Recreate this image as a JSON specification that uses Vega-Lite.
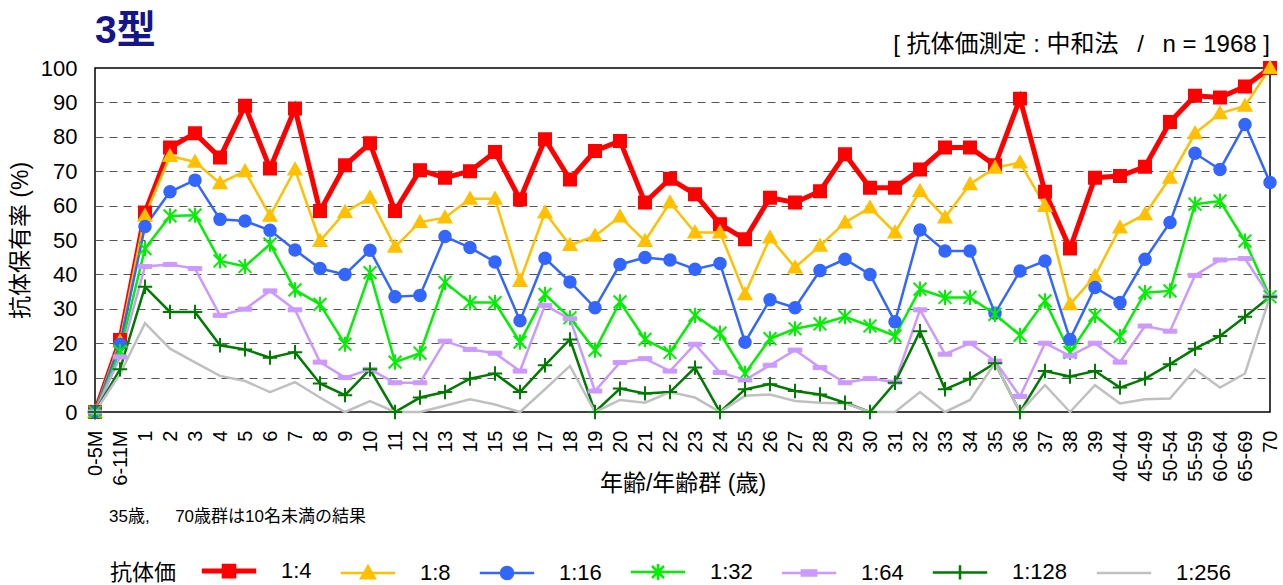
{
  "$schema": "https://vega.github.io/schema/vega-lite/v6.json",
  "width": 1175,
  "height": 344,
  "autosize": {"type": "none"},
  "padding": {"left": 95, "top": 68, "right": 13, "bottom": 173},
  "background": "white",
  "config": {
    "font": "Liberation Sans, Noto Sans CJK JP",
    "view": {"stroke": "#000000", "strokeWidth": 1.5},
    "axisY": {"tickCount": 12}
  },
  "title": {
    "text": "3型",
    "anchor": "start",
    "frame": "group",
    "fontSize": 39,
    "fontWeight": "bold",
    "color": "#14148c",
    "offset": -18
  },
  "data": {
    "values": [
      {"age": "0-5M", "1:4": 0, "1:8": 0, "1:16": 0, "1:32": 0, "1:64": 0, "1:128": 0, "1:256": 0},
      {"age": "6-11M", "1:4": 20.9, "1:8": 20.5, "1:16": 19.7, "1:32": 17.6, "1:64": 16, "1:128": 12.4, "1:256": 11},
      {"age": "1", "1:4": 58, "1:8": 57, "1:16": 53.9, "1:32": 47.5, "1:64": 42.3, "1:128": 36.4, "1:256": 25.8},
      {"age": "2", "1:4": 76.9, "1:8": 74.4, "1:16": 64, "1:32": 57, "1:64": 42.9, "1:128": 29.1, "1:256": 18.4},
      {"age": "3", "1:4": 81, "1:8": 72.7, "1:16": 67.4, "1:32": 57.2, "1:64": 41.7, "1:128": 29.1, "1:256": 14.4},
      {"age": "4", "1:4": 74, "1:8": 66.5, "1:16": 56, "1:32": 43.9, "1:64": 28.1, "1:128": 19.4, "1:256": 10.5},
      {"age": "5", "1:4": 89, "1:8": 70, "1:16": 55.5, "1:32": 42.3, "1:64": 29.9, "1:128": 18.2, "1:256": 9},
      {"age": "6", "1:4": 70.8, "1:8": 57, "1:16": 52.8, "1:32": 48.8, "1:64": 35.2, "1:128": 15.8, "1:256": 5.8},
      {"age": "7", "1:4": 88.2, "1:8": 70.5, "1:16": 47.1, "1:32": 35.5, "1:64": 29.7, "1:128": 17.4, "1:256": 8.7},
      {"age": "8", "1:4": 58.4, "1:8": 49.7, "1:16": 41.7, "1:32": 31.3, "1:64": 14.5, "1:128": 8.3, "1:256": 4.2},
      {"age": "9", "1:4": 71.7, "1:8": 58.1, "1:16": 40, "1:32": 19.7, "1:64": 10, "1:128": 4.9, "1:256": 0},
      {"age": "10", "1:4": 78.1, "1:8": 62.3, "1:16": 47, "1:32": 40.5, "1:64": 12.4, "1:128": 12.4, "1:256": 3.2},
      {"age": "11", "1:4": 58.4, "1:8": 48, "1:16": 33.5, "1:32": 14.5, "1:64": 8.5, "1:128": 0, "1:256": 0},
      {"age": "12", "1:4": 70.3, "1:8": 55.2, "1:16": 33.9, "1:32": 17.1, "1:64": 8.5, "1:128": 4.2, "1:256": 0},
      {"age": "13", "1:4": 68.1, "1:8": 56.5, "1:16": 51, "1:32": 37.7, "1:64": 20.6, "1:128": 5.8, "1:256": 1.8},
      {"age": "14", "1:4": 70, "1:8": 62, "1:16": 47.8, "1:32": 31.8, "1:64": 18.2, "1:128": 9.7, "1:256": 3.7},
      {"age": "15", "1:4": 75.6, "1:8": 62, "1:16": 43.6, "1:32": 31.8, "1:64": 17.1, "1:128": 11.2, "1:256": 2.2},
      {"age": "16", "1:4": 61.8, "1:8": 38.1, "1:16": 26.5, "1:32": 20.3, "1:64": 11.9, "1:128": 5.8, "1:256": 0},
      {"age": "17", "1:4": 79.3, "1:8": 58, "1:16": 44.7, "1:32": 34.2, "1:64": 31, "1:128": 13.6, "1:256": 6.6},
      {"age": "18", "1:4": 67.6, "1:8": 48.5, "1:16": 37.8, "1:32": 27.4, "1:64": 27.1, "1:128": 21.1, "1:256": 13.4},
      {"age": "19", "1:4": 75.9, "1:8": 51.2, "1:16": 30.3, "1:32": 18, "1:64": 6.1, "1:128": 0, "1:256": 0},
      {"age": "20", "1:4": 78.8, "1:8": 56.8, "1:16": 42.9, "1:32": 32, "1:64": 14.4, "1:128": 6.8, "1:256": 3.5},
      {"age": "21", "1:4": 60.9, "1:8": 49.7, "1:16": 44.9, "1:32": 21.1, "1:64": 15.5, "1:128": 5.4, "1:256": 2.7},
      {"age": "22", "1:4": 67.8, "1:8": 60.9, "1:16": 44.2, "1:32": 17.3, "1:64": 11.9, "1:128": 5.8, "1:256": 5.8},
      {"age": "23", "1:4": 63.3, "1:8": 52.2, "1:16": 41.5, "1:32": 28.1, "1:64": 19.7, "1:128": 12.9, "1:256": 4.2},
      {"age": "24", "1:4": 54.6, "1:8": 52.2, "1:16": 43.2, "1:32": 22.9, "1:64": 11.5, "1:128": 0, "1:256": 0},
      {"age": "25", "1:4": 50.2, "1:8": 34.2, "1:16": 20.3, "1:32": 11.2, "1:64": 9.3, "1:128": 6.6, "1:256": 4.7},
      {"age": "26", "1:4": 62.3, "1:8": 50.7, "1:16": 32.6, "1:32": 21.3, "1:64": 13.6, "1:128": 8.1, "1:256": 5.1},
      {"age": "27", "1:4": 60.9, "1:8": 42, "1:16": 30.3, "1:32": 24.2, "1:64": 18, "1:128": 6.1, "1:256": 3.2},
      {"age": "28", "1:4": 64.2, "1:8": 48.3, "1:16": 41.1, "1:32": 25.6, "1:64": 12.9, "1:128": 5.1, "1:256": 2.7},
      {"age": "29", "1:4": 74.9, "1:8": 55.1, "1:16": 44.4, "1:32": 27.7, "1:64": 8.5, "1:128": 2.7, "1:256": 2.5},
      {"age": "30", "1:4": 65.2, "1:8": 59.4, "1:16": 40, "1:32": 25, "1:64": 9.7, "1:128": 0, "1:256": 0},
      {"age": "31", "1:4": 65.2, "1:8": 52.2, "1:16": 26.2, "1:32": 22.1, "1:64": 8.7, "1:128": 8.5, "1:256": 0},
      {"age": "32", "1:4": 70.5, "1:8": 64.2, "1:16": 52.9, "1:32": 35.7, "1:64": 29.7, "1:128": 23.5, "1:256": 5.8},
      {"age": "33", "1:4": 76.9, "1:8": 56.5, "1:16": 46.8, "1:32": 33.3, "1:64": 16.8, "1:128": 6.6, "1:256": 0},
      {"age": "34", "1:4": 76.9, "1:8": 66.2, "1:16": 46.8, "1:32": 33.3, "1:64": 20, "1:128": 9.7, "1:256": 3.5},
      {"age": "35", "1:4": 71.7, "1:8": 71, "1:16": 28.7, "1:32": 28.4, "1:64": 14.8, "1:128": 14.2, "1:256": 14.2},
      {"age": "36", "1:4": 91.1, "1:8": 72.5, "1:16": 41, "1:32": 22.3, "1:64": 4.5, "1:128": 0, "1:256": 0},
      {"age": "37", "1:4": 64, "1:8": 59.9, "1:16": 43.9, "1:32": 32.3, "1:64": 20, "1:128": 11.9, "1:256": 7.8},
      {"age": "38", "1:4": 47.5, "1:8": 31.3, "1:16": 21.1, "1:32": 17.3, "1:64": 16.3, "1:128": 10.3, "1:256": 0},
      {"age": "39", "1:4": 68.1, "1:8": 39.5, "1:16": 36.2, "1:32": 28.1, "1:64": 20, "1:128": 11.9, "1:256": 7.8},
      {"age": "40-44", "1:4": 68.6, "1:8": 53.6, "1:16": 31.8, "1:32": 21.9, "1:64": 14.5, "1:128": 7.1, "1:256": 2.5},
      {"age": "45-49", "1:4": 71.3, "1:8": 57.5, "1:16": 44.4, "1:32": 34.7, "1:64": 25, "1:128": 9.7, "1:256": 3.7},
      {"age": "50-54", "1:4": 84.3, "1:8": 68.1, "1:16": 55.1, "1:32": 35.2, "1:64": 23.5, "1:128": 13.9, "1:256": 3.9},
      {"age": "55-59", "1:4": 91.9, "1:8": 81, "1:16": 75.2, "1:32": 60.4, "1:64": 39.7, "1:128": 18.4, "1:256": 12.4},
      {"age": "60-64", "1:4": 91.4, "1:8": 86.8, "1:16": 70.5, "1:32": 61.3, "1:64": 44.2, "1:128": 22.1, "1:256": 7.1},
      {"age": "65-69", "1:4": 94.6, "1:8": 89, "1:16": 83.6, "1:32": 49.7, "1:64": 44.6, "1:128": 27.7, "1:256": 11.2},
      {"age": "70", "1:4": 100, "1:8": 100, "1:16": 66.7, "1:32": 33.5, "1:64": 33.5, "1:128": 33.5, "1:256": 33.5}
    ]
  },
  "transform": [
    {"fold": ["1:4", "1:8", "1:16", "1:32", "1:64", "1:128", "1:256"], "as": ["series", "value"]}
  ],
  "layer": [
    {
      "transform": [{"filter": "datum.series === '1:4'"}],
      "mark": {"type": "line", "strokeWidth": 5},
      "encoding": {
        "x": {
          "field": "age", "type": "nominal",
          "scale": {"type": "point", "padding": 0, "domain": ["0-5M","6-11M","1","2","3","4","5","6","7","8","9","10","11","12","13","14","15","16","17","18","19","20","21","22","23","24","25","26","27","28","29","30","31","32","33","34","35","36","37","38","39","40-44","45-49","50-54","55-59","60-64","65-69","70"]},
          "axis": {
            "labelAngle": 270, "labelFontSize": 20, "labelColor": "#000000", "labelPadding": 18,
            "ticks": false, "domain": false, "grid": false, "labelOverlap": false,
            "title": "年齢/年齢群 (歳)", "titleFontSize": 23, "titleFontWeight": "normal", "titleColor": "#000000",
            "titleY": 71, "titleBaseline": "middle"
          }
        },
        "y": {
          "field": "value", "type": "quantitative",
          "scale": {"domain": [0, 100], "nice": false},
          "axis": {
            "values": [0,10,20,30,40,50,60,70,80,90,100], "tickCount": 12,
            "grid": true, "gridDash": [8, 6], "gridColor": "#555555", "gridWidth": 1,
            "gridOpacity": {"condition": {"test": "datum.value === 0 || datum.value === 100", "value": 0}, "value": 1},
            "ticks": false, "domain": false, "labelOverlap": false,
            "labelFontSize": 22, "labelColor": "#000000", "labelPadding": 18,
            "title": "抗体保有率 (%)", "titleFontSize": 23, "titleFontWeight": "normal", "titleColor": "#000000",
            "titleX": -75, "titleY": 172, "titleAngle": 270, "titleBaseline": "middle", "titleAlign": "center"
          }
        },
        "color": {
          "field": "series", "type": "nominal",
          "scale": {"domain": ["1:4","1:8","1:16","1:32","1:64","1:128","1:256"], "range": ["#ff0000","#ffc000","#3366ff","#00f000","#cc99ff","#007a00","#c0c0c0"]},
          "legend": {
            "title": "抗体価", "orient": "none", "legendX": 15, "legendY": 492,
            "direction": "horizontal", "columns": 7,
            "titleOrient": "left", "titleFontSize": 22, "titleFontWeight": "normal", "titleColor": "#000000", "titlePadding": 22,
            "labelFontSize": 22, "labelColor": "#000000",
            "symbolSize": 256, "symbolOffset": 19, "labelOffset": 41, "columnPadding": 23,
            "encode": {
              "symbols": {
                "update": {
                  "shape": {"signal": "datum.value === '1:4' ? 'M-3.4,0H3.4M-0.6,-0.6H0.6V0.6H-0.6Z' : datum.value === '1:8' ? 'M-3.4,0H3.4M0,-0.85L0.85,0.65H-0.85Z' : datum.value === '1:16' ? 'M-3.4,0H3.4M-0.75,0A0.75,0.75 0 1,0 0.75,0A0.75,0.75 0 1,0 -0.75,0Z' : datum.value === '1:32' ? 'M-3.4,0H3.4M-0.75,-0.75L0.75,0.75M-0.75,0.75L0.75,-0.75M0,-1V1' : datum.value === '1:64' ? 'M-3.4,0H3.4M-0.9,-0.3H0.9V0.3H-0.9Z' : datum.value === '1:128' ? 'M-3.4,0H3.4M0,-0.9V0.9' : 'M-3.4,0H3.4'"},
                  "fill": {"scale": "color", "field": "value"},
                  "stroke": {"scale": "color", "field": "value"},
                  "strokeWidth": {"signal": "datum.value === '1:4' ? 5 : 2.5"},
                  "opacity": {"value": 1},
                  "fillOpacity": {"value": 1},
                  "strokeOpacity": {"value": 1}
                }
              }
            }
          }
        }
      }
    },
    {
      "transform": [{"filter": "datum.series !== '1:4'"}],
      "mark": {"type": "line", "strokeWidth": 2.5},
      "encoding": {
        "x": {"field": "age", "type": "nominal"},
        "y": {"field": "value", "type": "quantitative"},
        "color": {"field": "series", "type": "nominal"}
      }
    },
    {
      "transform": [{"filter": "datum.series === '1:4'"}],
      "mark": {"type": "point", "shape": "M-0.78,-0.78H0.78V0.78H-0.78Z", "filled": true, "size": 256, "color": "#ff0000", "stroke": "#ff0000", "strokeWidth": 1.5, "opacity": 1},
      "encoding": {
        "x": {"field": "age", "type": "nominal"},
        "y": {"field": "value", "type": "quantitative"}
      }
    },
    {
      "transform": [{"filter": "datum.series === '1:8'"}],
      "mark": {"type": "point", "shape": "M0,-0.85L0.85,0.65H-0.85Z", "filled": true, "size": 256, "color": "#ffc000", "stroke": "#ffc000", "strokeWidth": 1.5, "opacity": 1},
      "encoding": {
        "x": {"field": "age", "type": "nominal"},
        "y": {"field": "value", "type": "quantitative"}
      }
    },
    {
      "transform": [{"filter": "datum.series === '1:16'"}],
      "mark": {"type": "point", "shape": "M-0.75,0A0.75,0.75 0 1,0 0.75,0A0.75,0.75 0 1,0 -0.75,0Z", "filled": true, "size": 256, "color": "#3366ff", "stroke": "#3366ff", "strokeWidth": 1.5, "opacity": 1},
      "encoding": {
        "x": {"field": "age", "type": "nominal"},
        "y": {"field": "value", "type": "quantitative"}
      }
    },
    {
      "transform": [{"filter": "datum.series === '1:32'"}],
      "mark": {"type": "point", "shape": "M-0.8,-0.8L0.8,0.8M-0.8,0.8L0.8,-0.8M0,-0.95V0.95", "filled": false, "size": 256, "stroke": "#00f000", "strokeWidth": 2, "opacity": 1},
      "encoding": {
        "x": {"field": "age", "type": "nominal"},
        "y": {"field": "value", "type": "quantitative"}
      }
    },
    {
      "transform": [{"filter": "datum.series === '1:64'"}],
      "mark": {"type": "point", "shape": "M-0.85,-0.25H0.85V0.25H-0.85Z", "filled": true, "size": 256, "color": "#cc99ff", "stroke": "#cc99ff", "strokeWidth": 1, "opacity": 1},
      "encoding": {
        "x": {"field": "age", "type": "nominal"},
        "y": {"field": "value", "type": "quantitative"}
      }
    },
    {
      "transform": [{"filter": "datum.series === '1:128'"}],
      "mark": {"type": "point", "shape": "M-0.9,0H0.9M0,-0.9V0.9", "filled": false, "size": 256, "stroke": "#007a00", "strokeWidth": 2, "opacity": 1},
      "encoding": {
        "x": {"field": "age", "type": "nominal"},
        "y": {"field": "value", "type": "quantitative"}
      }
    },
    {
      "data": {"values": [{"note": "35歳,\u3000\u200270歳群は10名未満の結果"}]},
      "mark": {"type": "text", "align": "left", "baseline": "middle", "fontSize": 17, "dx": 14, "color": "#000000"},
      "encoding": {
        "x": {"datum": "0-5M", "type": "nominal"},
        "y": {"datum": -30.5, "type": "quantitative"},
        "text": {"field": "note"}
      }
    },
    {
      "data": {"values": [{"note": "[ 抗体価測定 : 中和法\u2002 / \u2002n = 1968 ]"}]},
      "mark": {"type": "text", "align": "right", "baseline": "middle", "fontSize": 24, "color": "#000000"},
      "encoding": {
        "x": {"datum": "70", "type": "nominal"},
        "y": {"datum": 106.7, "type": "quantitative"},
        "text": {"field": "note"}
      }
    }
  ]
}
